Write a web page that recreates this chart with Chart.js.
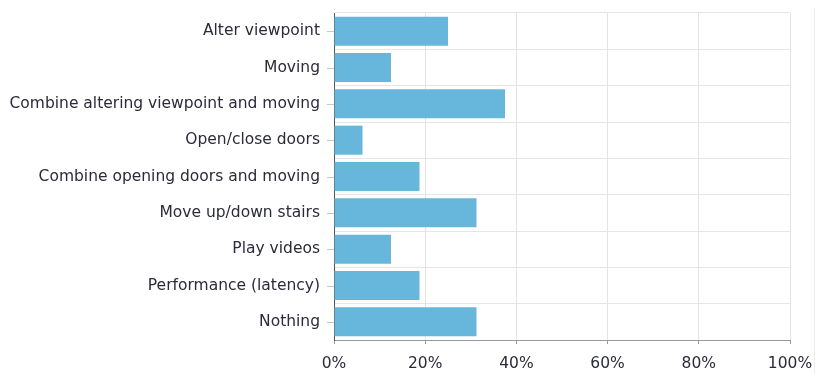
<!DOCTYPE html>
<html><head><meta charset="utf-8">
<script src="https://cdn.jsdelivr.net/npm/chart.js@4"></script>
<style>html,body{margin:0;padding:0;background:#fff;}#wrap{width:815px;height:374px;position:relative;}</style>
</head><body><div id="wrap"><canvas id="c"></canvas></div>
<script>
const categories = ["Alter viewpoint","Moving","Combine altering viewpoint and moving","Open/close doors","Combine opening doors and moving","Move up/down stairs","Play videos","Performance (latency)","Nothing"];
const values = [25, 12.5, 37.5, 6.25, 18.75, 31.25, 12.5, 18.75, 31.25];
const xTicks = [0, 20, 40, 60, 80, 100];

const FONT = '"DejaVu Sans", Verdana, sans-serif';

const extras = {
  id: 'extras',
  afterDraw(chart) {
    const y = chart.scales.y, ctx = chart.ctx;
    ctx.save();
    ctx.strokeStyle = '#c8c8c8'; ctx.lineWidth = 1;
    categories.forEach((c, i) => {
      const p = Math.round(y.getPixelForValue(i)) + 0.5;
      ctx.beginPath(); ctx.moveTo(y.right - 7, p); ctx.lineTo(y.right, p); ctx.stroke();
    });
    ctx.strokeStyle = '#ececec';
    ctx.beginPath(); ctx.moveTo(814.5, 8); ctx.lineTo(814.5, chart.height); ctx.stroke();
    ctx.restore();
  }
};

new Chart(document.getElementById('c'), {
  type: 'bar',
  data: { labels: categories, datasets: [{ data: values, backgroundColor: '#67b7dc', borderWidth: 0, categoryPercentage: 1, barPercentage: 0.8 }] },
  options: {
    indexAxis: 'y', responsive: true, maintainAspectRatio: false, animation: false,
    layout: { padding: { left: 0, right: 25, top: 13, bottom: 0 } },
    plugins: { legend: { display: false }, tooltip: { enabled: false } },
    scales: {
      x: {
        min: 0, max: 100,
        afterBuildTicks(s) { s.ticks = xTicks.map(v => ({ value: v })); },
        afterFit(s) { s.height = 34; s.paddingLeft = 0; s.paddingRight = 0; },
        ticks: { callback: v => v + '%', color: '#2b2b3a', font: { family: FONT, size: 15.5 }, padding: 11, maxRotation: 0 },
        grid: { color: '#e3e3e3', tickColor: '#999', tickLength: 4 },
        border: { color: '#999' }
      },
      y: {
        afterFit(s) { s.width = 334; s.paddingTop = 0; s.paddingBottom = 0; },
        ticks: { color: '#2b2b3a', font: { family: FONT, size: 15.5 }, padding: 14 },
        grid: { color: '#e6e6e6', offset: true, drawTicks: false, tickLength: 8 },
        border: { color: '#555' }
      }
    }
  },
  plugins: [extras]
});
</script>
</body></html>
